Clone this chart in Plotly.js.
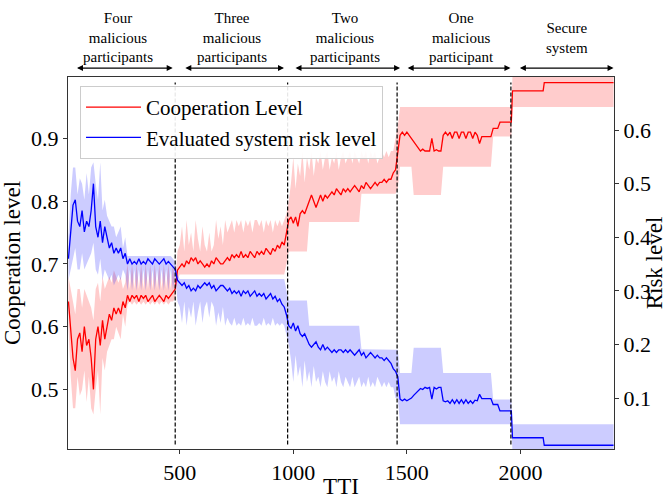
<!DOCTYPE html>
<html>
<head>
<meta charset="utf-8">
<script src="https://cdn.plot.ly/plotly-3.0.1.min.js"></script>
<style>html,body{margin:0;padding:0;background:#fff}#chart{width:667px;height:499px}</style>
</head>
<body>
<div id="chart"></div>
<script>
// ---- data ----
const tti = [
  10,20,30,40,50,60,70,80,90,100,110,120,130,140,150,160,170,180,190,200,210,220,230,240,250,260,270,280,290,300,310,320,330,340,350,360,370,380,390,400,410,420,430,440,450,460,470,480,
  490,500,510,520,530,540,550,560,570,580,590,600,610,620,630,640,650,660,670,680,690,700,710,720,730,740,750,760,770,780,790,800,810,820,830,840,850,860,870,880,890,900,910,920,930,940,950,960,970,
  980,990,1000,1010,1020,1030,1040,1050,1060,1070,1080,1090,1100,1110,1120,1130,1140,1150,1160,1170,1180,1190,1200,1210,1220,1230,1240,1250,1260,1270,1280,1290,1300,1310,1320,1330,1340,1350,1360,1370,1380,1390,1400,1410,1420,1430,1440,1450,
  1460,1470,1480,1490,1500,1510,1520,1530,1540,1550,1560,1570,1580,1590,1600,1610,1620,1630,1640,1650,1660,1670,1680,1690,1700,1710,1720,1730,1740,1750,1760,1770,1780,1790,1800,1810,1820,1830,1840,1850,1860,1870,1880,1890,1900,1910,1920,1930,1940,1950,1960,
  1965,2100,2105,2410
];

const cooperation = [
  0.64,0.60,0.55,0.53,0.58,0.59,0.56,0.60,0.57,0.58,
  0.55,0.50,0.58,0.60,0.57,0.61,0.58,0.60,0.62,0.61,
  0.63,0.62,0.63,0.62,0.64,0.63,0.65,0.64,0.65,0.645,
  0.65,0.64,0.65,0.645,0.65,0.64,0.645,0.65,0.64,0.645,
  0.65,0.645,0.64,0.65,0.645,0.65,0.655,0.66,
  0.69,0.695,0.70,0.695,0.705,0.70,0.71,0.705,0.71,0.70,
  0.705,0.70,0.695,0.70,0.695,0.705,0.70,0.71,0.705,0.70,
  0.70,0.705,0.71,0.705,0.715,0.71,0.715,0.71,0.72,0.71,
  0.715,0.71,0.72,0.715,0.71,0.72,0.715,0.72,0.715,0.725,
  0.72,0.715,0.725,0.72,0.73,0.725,0.735,0.73,0.75,
  0.77,0.775,0.765,0.775,0.76,0.78,0.785,0.78,0.79,0.80,
  0.81,0.80,0.79,0.80,0.81,0.80,0.81,0.805,0.81,0.815,
  0.81,0.82,0.815,0.81,0.82,0.815,0.82,0.815,0.82,0.825,
  0.82,0.815,0.825,0.82,0.83,0.825,0.82,0.825,0.83,0.825,
  0.83,0.83,0.835,0.83,0.835,0.835,0.845,0.85,
  0.88,0.905,0.91,0.905,0.91,0.905,0.90,0.895,0.89,0.885,
  0.88,0.883,0.88,0.88,0.88,0.90,0.88,0.882,0.88,0.88,
  0.905,0.91,0.905,0.91,0.90,0.91,0.91,0.90,0.91,0.91,
  0.90,0.91,0.91,0.90,0.91,0.905,0.892,0.903,0.903,0.903,
  0.903,0.903,0.916,0.916,0.916,0.926,0.926,0.926,0.926,0.926,0.926,
  0.976,0.976,0.989,0.989
];

const cooperationLow = [
  0.60,0.52,0.47,0.47,0.52,0.49,0.50,0.53,0.48,0.52,
  0.47,0.46,0.50,0.53,0.46,0.55,0.53,0.56,0.57,0.58,
  0.58,0.60,0.59,0.58,0.62,0.60,0.635,0.64,0.635,0.64,
  0.635,0.64,0.635,0.64,0.635,0.64,0.635,0.64,0.635,0.64,
  0.635,0.64,0.635,0.64,0.635,0.64,0.64,0.645,
  0.675,0.683,0.683,0.683,0.683,0.683,0.683,0.683,0.683,0.683,
  0.683,0.683,0.683,0.683,0.683,0.683,0.683,0.683,0.683,0.683,
  0.683,0.683,0.683,0.683,0.683,0.683,0.683,0.683,0.683,0.683,
  0.683,0.683,0.683,0.683,0.683,0.683,0.683,0.683,0.683,0.683,
  0.683,0.683,0.683,0.683,0.683,0.683,0.683,0.683,0.70,
  0.72,0.72,0.72,0.72,0.72,0.72,0.72,0.72,0.72,
  0.767,0.767,0.767,0.767,0.767,0.767,0.767,0.767,0.767,0.767,0.767,0.767,
  0.767,0.767,0.767,0.767,0.767,0.767,0.767,0.767,0.767,0.767,0.767,
  0.812,0.812,0.812,0.812,0.812,0.812,0.812,0.812,
  0.812,0.812,0.812,0.812,0.812,0.812,0.812,0.812,
  0.82,
  0.855,0.855,0.855,0.855,0.855,0.855,
  0.81,0.81,0.81,0.81,0.81,0.81,0.81,0.81,0.81,0.81,0.81,0.81,0.81,
  0.855,0.855,0.855,0.855,0.855,0.855,0.855,0.855,0.855,0.855,0.855,
  0.855,0.855,0.855,0.855,0.855,0.855,0.855,0.855,0.855,0.855,0.855,
  0.903,0.903,0.903,0.903,0.903,0.903,0.903,0.903,0.903,
  0.95,0.95,0.95,0.95
];

const cooperationHigh = [
  0.68,0.66,0.64,0.62,0.66,0.66,0.63,0.66,0.65,0.64,
  0.63,0.61,0.66,0.67,0.64,0.68,0.66,0.67,0.68,0.67,
  0.69,0.68,0.67,0.68,0.66,0.67,0.70,0.66,0.70,0.66,
  0.70,0.66,0.70,0.66,0.70,0.66,0.70,0.66,0.70,0.66,
  0.70,0.66,0.70,0.66,0.70,0.66,0.70,0.67,
  0.72,0.73,0.76,0.72,0.77,0.73,0.75,0.72,0.77,0.74,
  0.72,0.76,0.73,0.72,0.75,0.72,0.73,0.77,0.74,0.76,
  0.73,0.77,0.75,0.76,0.77,0.75,0.77,0.76,0.77,0.75,
  0.77,0.76,0.77,0.75,0.77,0.77,0.76,0.77,0.75,0.77,
  0.76,0.77,0.75,0.77,0.76,0.77,0.76,0.77,0.78,
  0.80,0.83,0.87,0.82,0.86,0.84,0.88,0.83,0.87,0.85,
  0.88,0.84,0.87,0.86,0.88,0.85,0.87,0.88,0.85,0.87,
  0.86,0.88,0.85,0.87,0.88,0.86,0.87,0.88,0.86,0.88,
  0.87,0.86,0.88,0.87,0.88,0.86,0.88,0.87,0.88,0.86,
  0.87,0.88,0.87,0.88,0.87,0.88,0.88,0.90,
  0.92,0.95,0.95,0.95,0.95,0.95,0.95,0.95,0.95,0.95,
  0.95,0.95,0.95,0.95,0.95,0.95,0.95,0.95,0.95,0.95,
  0.95,0.95,0.95,0.95,0.95,0.95,0.95,0.95,0.95,0.95,
  0.95,0.95,0.95,0.95,0.95,0.95,0.95,0.95,0.95,0.95,
  0.95,0.95,0.95,0.95,0.95,0.95,0.95,0.95,0.95,0.95,0.95,
  1.0,1.0,1.0,1.0
];

const risk = [
  0.36,0.41,0.46,0.47,0.43,0.42,0.45,0.41,0.43,0.42,
  0.45,0.50,0.42,0.40,0.43,0.39,0.42,0.40,0.38,0.39,
  0.37,0.38,0.37,0.38,0.36,0.37,0.35,0.36,0.35,0.355,
  0.35,0.36,0.35,0.355,0.35,0.36,0.355,0.35,0.36,0.355,
  0.35,0.355,0.36,0.35,0.355,0.35,0.345,0.34,
  0.32,0.315,0.31,0.315,0.305,0.31,0.30,0.305,0.30,0.31,
  0.305,0.31,0.315,0.31,0.315,0.305,0.31,0.30,0.305,0.31,
  0.31,0.305,0.30,0.305,0.295,0.30,0.295,0.30,0.29,0.30,
  0.295,0.30,0.29,0.295,0.30,0.29,0.295,0.29,0.295,0.285,
  0.29,0.295,0.285,0.29,0.28,0.285,0.275,0.27,0.255,
  0.235,0.23,0.24,0.225,0.235,0.22,0.215,0.22,0.21,0.20,
  0.195,0.20,0.205,0.195,0.19,0.20,0.19,0.195,0.19,0.185,
  0.19,0.185,0.19,0.19,0.185,0.19,0.185,0.19,0.185,0.18,
  0.185,0.19,0.18,0.185,0.175,0.18,0.185,0.18,0.175,0.18,
  0.175,0.175,0.17,0.175,0.17,0.165,0.155,0.15,
  0.14,0.098,0.095,0.098,0.095,0.098,0.10,0.105,0.11,0.115,
  0.118,0.116,0.12,0.118,0.12,0.098,0.12,0.117,0.12,0.12,
  0.095,0.093,0.095,0.09,0.097,0.09,0.097,0.09,0.097,0.09,
  0.097,0.09,0.095,0.09,0.096,0.095,0.107,0.099,0.099,0.099,
  0.099,0.099,0.088,0.088,0.088,0.076,0.076,0.076,0.076,0.076,0.076,
  0.026,0.026,0.012,0.012
];

const riskLow = [
  0.32,0.34,0.36,0.38,0.34,0.34,0.37,0.34,0.35,0.36,
  0.37,0.39,0.34,0.33,0.36,0.32,0.34,0.33,0.32,0.33,
  0.31,0.32,0.33,0.32,0.34,0.33,0.30,0.34,0.30,0.34,
  0.30,0.34,0.30,0.34,0.30,0.34,0.30,0.34,0.30,0.34,
  0.30,0.34,0.30,0.34,0.30,0.34,0.30,0.33,
  0.28,0.27,0.24,0.28,0.235,0.27,0.25,0.28,0.235,0.26,
  0.28,0.24,0.27,0.28,0.25,0.28,0.27,0.235,0.26,0.24,
  0.27,0.235,0.25,0.24,0.235,0.25,0.235,0.24,0.235,0.25,
  0.235,0.24,0.235,0.25,0.235,0.235,0.24,0.235,0.25,0.235,
  0.24,0.235,0.25,0.235,0.24,0.235,0.24,0.235,0.22,
  0.20,0.17,0.13,0.18,0.14,0.16,0.12,0.17,0.13,0.15,
  0.12,0.16,0.13,0.14,0.12,0.15,0.13,0.12,0.15,0.13,
  0.14,0.12,0.15,0.13,0.12,0.14,0.13,0.12,0.14,0.12,
  0.13,0.14,0.12,0.13,0.12,0.14,0.12,0.13,0.12,0.14,
  0.13,0.12,0.13,0.12,0.13,0.12,0.12,0.10,
  0.10,0.051,0.051,0.051,0.051,0.051,0.051,0.051,0.051,0.051,
  0.051,0.051,0.051,0.051,0.051,0.051,0.051,0.051,0.051,0.051,
  0.051,0.051,0.051,0.051,0.051,0.051,0.051,0.051,0.051,0.051,
  0.051,0.051,0.051,0.051,0.051,0.051,0.051,0.051,0.051,0.051,
  0.051,0.051,0.051,0.051,0.051,0.051,0.051,0.051,0.051,0.051,0.051,
  0.0,0.0,0.0,0.0
];

const riskHigh = [
  0.40,0.48,0.53,0.53,0.48,0.51,0.50,0.47,0.52,0.48,
  0.53,0.54,0.50,0.47,0.54,0.45,0.47,0.44,0.43,0.42,
  0.42,0.40,0.41,0.42,0.38,0.40,0.365,0.365,0.365,0.365,
  0.365,0.365,0.365,0.365,0.365,0.365,0.365,0.365,0.365,0.365,
  0.365,0.365,0.365,0.365,0.365,0.365,0.36,0.355,
  0.33,0.322,0.322,0.322,0.322,0.322,0.322,0.322,0.322,0.322,
  0.322,0.322,0.322,0.322,0.322,0.322,0.322,0.322,0.322,0.322,
  0.322,0.322,0.322,0.322,0.322,0.322,0.322,0.322,0.322,0.322,
  0.322,0.322,0.322,0.322,0.322,0.322,0.322,0.322,0.322,0.322,
  0.322,0.322,0.322,0.322,0.322,0.322,0.322,0.322,0.30,
  0.282,0.282,0.282,0.282,0.282,0.282,0.282,0.282,0.282,
  0.235,0.235,0.235,0.235,0.235,0.235,0.235,0.235,0.235,0.235,0.235,0.235,
  0.235,0.235,0.235,0.235,0.235,0.235,0.235,0.235,0.235,0.235,0.235,
  0.191,0.191,0.191,0.191,0.191,0.191,0.191,0.191,
  0.191,0.191,0.191,0.191,0.191,0.191,0.191,0.191,
  0.19,
  0.147,0.147,0.147,0.147,0.147,0.147,
  0.194,0.194,0.194,0.194,0.194,0.194,0.194,0.194,0.194,0.194,0.194,0.194,0.194,
  0.147,0.147,0.147,0.147,0.147,0.147,0.147,0.147,0.147,0.147,0.147,
  0.147,0.147,0.147,0.147,0.147,0.147,0.147,0.147,0.147,0.147,0.147,
  0.0975,0.0975,0.0975,0.0975,0.0975,0.0975,0.0975,0.0975,0.0975,
  0.051,0.051,0.051,0.051
];

const phaseBoundaries = [480, 975, 1457, 1958];
const phaseLabels = [
  "Four<br>malicious<br>participants",
  "Three<br>malicious<br>participants",
  "Two<br>malicious<br>participants",
  "One<br>malicious<br>participant",
  "Secure<br>system"
];
const phaseLabelX = [226, 729, 1228, 1740, 2203];
const phaseArrowStart = [41, 518, 1003, 1497, 1991];
const phaseArrowEnd = [469, 959, 1470, 1956, 2410];

const xTicks = [500, 1000, 1500, 2000];
const leftTicks = [0.5, 0.6, 0.7, 0.8, 0.9];
const rightTicks = [0.1, 0.2, 0.3, 0.4, 0.5, 0.6];

// ---- chart ----
const FONT = "Liberation Serif";

const traces = [
  {x: tti, y: cooperationLow, yaxis: "y", mode: "lines", line: {width: 0, color: "rgba(255,0,0,0)"}, showlegend: false, hoverinfo: "skip"},
  {x: tti, y: cooperationHigh, yaxis: "y", mode: "lines", line: {width: 0, color: "rgba(255,0,0,0)"}, fill: "tonexty", fillcolor: "rgba(255,0,0,0.2)", showlegend: false, hoverinfo: "skip"},
  {x: tti, y: cooperation, yaxis: "y", mode: "lines", line: {width: 1.3, color: "#ff0000"}, name: "Cooperation Level", legendrank: 1},
  {x: tti, y: riskLow, yaxis: "y2", mode: "lines", line: {width: 0, color: "rgba(0,0,255,0)"}, showlegend: false, hoverinfo: "skip"},
  {x: tti, y: riskHigh, yaxis: "y2", mode: "lines", line: {width: 0, color: "rgba(0,0,255,0)"}, fill: "tonexty", fillcolor: "rgba(0,0,255,0.2)", showlegend: false, hoverinfo: "skip"},
  {x: tti, y: risk, yaxis: "y2", mode: "lines", line: {width: 1.3, color: "#0000ff"}, name: "Evaluated system risk level", legendrank: 2}
];

const shapes = phaseBoundaries.map(b => ({
  type: "line", xref: "x", yref: "paper", x0: b, x1: b, y0: 0.012, y1: 0.985,
  line: {color: "#000", width: 1.2, dash: "4px,2px"}
}));

const annotations = [];
phaseLabels.forEach((t, i) => {
  annotations.push({
    xref: "x", yref: "paper", x: phaseLabelX[i], y: 1.105, text: t, showarrow: false,
    xanchor: "center", yanchor: "middle", font: {family: FONT, size: 15, color: "#000"}
  });
  annotations.push({
    xref: "x", yref: "paper", x: phaseArrowEnd[i], y: 1.024, text: "",
    showarrow: true, axref: "x", ayref: "pixel", ax: phaseArrowStart[i], ay: 0,
    arrowhead: 2, startarrowhead: 2, arrowside: "end+start", arrowsize: 1, startarrowsize: 1,
    arrowwidth: 1.2, arrowcolor: "#000", standoff: 0, startstandoff: 0
  });
});

const axisCommon = {
  showline: true, linecolor: "#333", linewidth: 1, showgrid: false, zeroline: false,
  ticks: "outside", ticklen: 4, tickwidth: 1, tickcolor: "#333",
  tickfont: {family: FONT, size: 22, color: "#000"}
};

const layout = {
  width: 667, height: 499,
  margin: {l: 68, r: 53, t: 77, b: 50},
  paper_bgcolor: "#fff", plot_bgcolor: "#fff",
  font: {family: FONT, color: "#000"},
  xaxis: Object.assign({}, axisCommon, {
    range: [8, 2412], tickvals: xTicks, ticktext: xTicks.map(String), mirror: true,
    title: {text: "TTI", font: {family: FONT, size: 23}, standoff: 4}
  }),
  yaxis: Object.assign({}, axisCommon, {
    range: [0.405, 0.998], tickvals: leftTicks, ticktext: leftTicks.map(v => v.toFixed(1)),
    title: {text: "Cooperation level", font: {family: FONT, size: 23}, standoff: 6}
  }),
  yaxis2: Object.assign({}, axisCommon, {
    overlaying: "y", side: "right", range: [0.005, 0.699],
    tickvals: rightTicks, ticktext: rightTicks.map(v => v.toFixed(1)),
    title: {text: "Risk level", font: {family: FONT, size: 23}, standoff: 0}
  }),
  legend: {
    x: 0.022, y: 0.976, xanchor: "left", yanchor: "top", traceorder: "normal",
    itemwidth: 55,
    bgcolor: "rgba(255,255,255,0.9)", bordercolor: "#cccccc", borderwidth: 1,
    font: {family: FONT, size: 21, color: "#000"}
  },
  shapes: shapes,
  annotations: annotations,
  showlegend: true
};

Plotly.newPlot("chart", traces, layout, {staticPlot: true, displayModeBar: false});
</script>
</body>
</html>
